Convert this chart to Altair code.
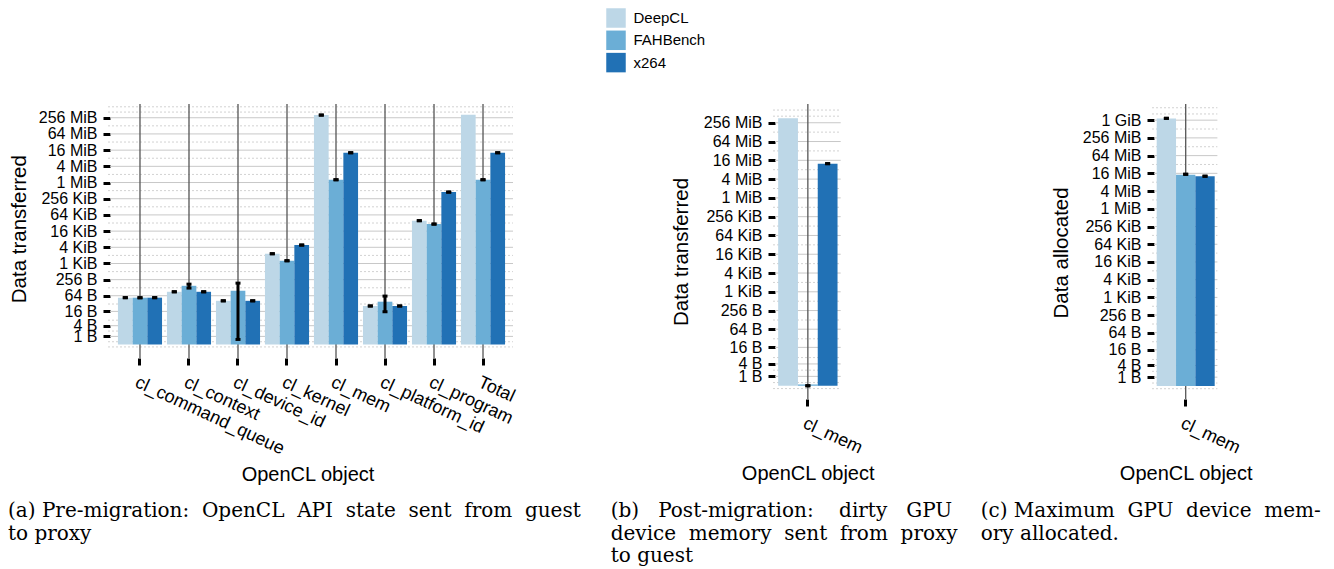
import altair as alt
import pandas as pd

SERIES = ["DeepCL", "FAHBench", "x264"]
COLORS = ["#bdd7e7", "#6baed6", "#2171b5"]
SANS = "Liberation Sans"
SERIF = "DejaVu Serif"

# ---------- data (bytes) ----------
# (a) Pre-migration
objects_a = ["cl_command_queue", "cl_context", "cl_device_id", "cl_kernel",
             "cl_mem", "cl_platform_id", "cl_program", "Total"]
deepcl_a = [54, 90, 41, 2360, 337e6, 26, 40000, 350e6]
fah_a = [54, 151, 99, 1295, 1.33e6, 38, 29900, 1.33e6]
x264_a = [54, 90, 41, 4970, 13.4e6, 26, 462000, 13.4e6]
deepcl_a_lo = [54, 90, 41, 2360, 337e6, 26, 40000, None]
deepcl_a_hi = [54, 90, 41, 2360, 337e6, 26, 40000, None]
fah_a_lo = [54, 124, 0.54, 1295, 1.33e6, 15.5, 29900, 1.33e6]
fah_a_hi = [54, 174, 190, 1295, 1.33e6, 62, 29900, 1.33e6]
x264_a_lo = [54, 90, 41, 4970, 13.4e6, 26, 462000, 13.4e6]
x264_a_hi = [54, 90, 41, 4970, 13.4e6, 26, 462000, 13.4e6]

# (b) Post-migration
objects_b = ["cl_mem"]
deepcl_b = [372e6]
fah_b = [0.1]
x264_b = [13.1e6]
deepcl_b_lo, deepcl_b_hi = [None], [None]
fah_b_lo, fah_b_hi = [0], [0]
x264_b_lo, x264_b_hi = [13.1e6], [13.1e6]

# (c) Maximum allocated
objects_c = ["cl_mem"]
deepcl_c = [1.233e9]
fah_c = [14.9e6]
x264_c = [13.4e6]
deepcl_c_lo, deepcl_c_hi = [1.24e9], [1.24e9]
fah_c_lo, fah_c_hi = [15.6e6], [15.6e6]
x264_c_lo, x264_c_hi = [13.4e6], [13.4e6]

ticks_ab = [4 ** k for k in range(15)]      # 1 B ... 256 MiB
ticks_c = [4 ** k for k in range(16)]       # 1 B ... 1 GiB
minor_units_ab = [-0.3, 0.34, 1.66, 3.0] + [float(k) for k in range(5, 28, 2)] + [28.7, 29.35]
minor_units_c = [-0.3, 0.34, 1.66, 3.0] + [float(k) for k in range(5, 30, 2)] + [30.7, 31.4]

NB = "\u00a0"
captions = {
    "a": f"(a) Pre-migration:{NB} OpenCL{NB} API{NB} state{NB} sent{NB} from{NB} guest\nto proxy",
    "b": f"(b){NB}{NB} Post-migration:{NB}{NB}{NB} dirty{NB}{NB} GPU\ndevice{NB} memory{NB} sent{NB} from{NB} proxy\nto guest",
    "c": f"(c) Maximum{NB} GPU{NB} device{NB} mem-\nory allocated.",
}


def long_df(objects, vals, los, his):
    rows = []
    for s, v, lo, hi in zip(SERIES, vals, los, his):
        for i, o in enumerate(objects):
            rows.append({"obj": o, "series": s, "value": v[i],
                         "lo": lo[i], "hi": hi[i]})
    return pd.DataFrame(rows)


df_a = long_df(objects_a, [deepcl_a, fah_a, x264_a],
               [deepcl_a_lo, fah_a_lo, x264_a_lo], [deepcl_a_hi, fah_a_hi, x264_a_hi])
df_b = long_df(objects_b, [deepcl_b, fah_b, x264_b],
               [deepcl_b_lo, fah_b_lo, x264_b_lo], [deepcl_b_hi, fah_b_hi, x264_b_hi])
df_c = long_df(objects_c, [deepcl_c, fah_c, x264_c],
               [deepcl_c_lo, fah_c_lo, x264_c_lo], [deepcl_c_hi, fah_c_hi, x264_c_hi])

LABEL_EXPR = ("datum.value >= 1073741824 ? format(datum.value/1073741824,'d') + ' GiB' : "
              "datum.value >= 1048576 ? format(datum.value/1048576,'d') + ' MiB' : "
              "datum.value >= 1024 ? format(datum.value/1024,'d') + ' KiB' : "
              "format(datum.value,'d') + ' B\u00a0\u00a0'")

LEG = alt.Legend(orient="none", legendX=496, legendY=-96, title=None,
                 symbolType="square", symbolSize=380, symbolStrokeWidth=0,
                 symbolOpacity=1, labelFontSize=15, labelFont=SANS,
                 labelColor="black", rowPadding=2.3, labelOffset=7.5, padding=0)


def panel(df, objects, ticks, minor_units, dom, ph, pw, cell_w, pad_outer,
          ytitle, ytitle_xy, xtitle_xy, cap_key, cap_x):
    xs = alt.Scale(range=[0, pw], paddingInner=0.1, paddingOuter=pad_outer)
    ys = alt.Scale(type="symlog", constant=1, domain=dom, range=[ph, 0],
                   nice=False, zero=False)
    xo = alt.Scale(domain=SERIES, paddingInner=0, paddingOuter=0)

    yaxis = alt.Axis(orient="left", values=ticks, labelExpr=LABEL_EXPR,
                     domain=False, grid=False, ticks=True, tickColor="black",
                     tickWidth=3, tickSize=7, labelFontSize=16, labelFont=SANS,
                     labelColor="black", labelPadding=6, labelOverlap=False,
                     labelFlush=False, title=ytitle, titleFont=SANS,
                     titleFontSize=20.5, titleFontWeight="normal", titleColor="black",
                     titleAngle=270, titleAlign="center", titleBaseline="middle",
                     titleX=ytitle_xy[0], titleY=ytitle_xy[1])
    xaxis = alt.Axis(orient="bottom", offset=10, domain=False, grid=False, ticks=True,
                     tickColor="black", tickWidth=3, tickSize=7, labelAngle=25,
                     labelAlign="left", labelBaseline="top", labelPadding=8,
                     labelFontSize=18, labelFont=SANS, labelColor="black",
                     labelOverlap=False, labelLimit=300, title="OpenCL object",
                     titleFont=SANS, titleFontSize=20, titleFontWeight="normal",
                     titleColor="black", titleAlign="center", titleBaseline="middle",
                     titleX=xtitle_xy[0], titleY=xtitle_xy[1])

    X = alt.X("obj:N", sort=objects, scale=xs, axis=xaxis)
    XO = alt.XOffset("series:N", sort=SERIES, scale=xo)

    majors = pd.DataFrame({"v": ticks})
    minors = pd.DataFrame({"v": [2 ** u - 1 if u >= 0 else -(2 ** (-u) - 1)
                                 for u in minor_units]})
    minor = alt.Chart(minors).mark_rule(color="#d2d2d2", strokeWidth=1,
                                        strokeDash=[2, 2]).encode(
        y=alt.Y("v:Q", scale=ys, axis=yaxis), x=alt.value(-2), x2=alt.value(pw))
    major = alt.Chart(majors).mark_rule(color="#c8c8c8", strokeWidth=1).encode(
        y=alt.Y("v:Q", scale=ys, axis=yaxis), x=alt.value(0), x2=alt.value(pw))
    objdf = pd.DataFrame({"obj": objects})
    vline = alt.Chart(objdf).mark_rule(color="#555555", strokeWidth=1.3).encode(
        x=X, y=alt.value(0), y2=alt.value(ph + 10))
    bars = alt.Chart(df).mark_bar().encode(
        x=X, xOffset=XO,
        y=alt.Y("value:Q", scale=ys, axis=yaxis),
        y2=alt.datum(0),
        color=alt.Color("series:N", scale=alt.Scale(domain=SERIES, range=COLORS),
                        legend=LEG),
    )
    base_err = alt.Chart(df).transform_filter("isValid(datum.lo)")
    err = base_err.mark_rule(color="black", strokeWidth=3).encode(
        x=X, xOffset=XO,
        y=alt.Y("lo:Q", scale=ys, axis=yaxis), y2="hi:Q")
    cap_lo = base_err.mark_tick(color="black", thickness=3, size=5, opacity=1).encode(
        x=X, xOffset=XO, y=alt.Y("lo:Q", scale=ys, axis=yaxis))
    cap_hi = base_err.mark_tick(color="black", thickness=3, size=5, opacity=1).encode(
        x=X, xOffset=XO, y=alt.Y("hi:Q", scale=ys, axis=yaxis))
    cap = alt.Chart(pd.DataFrame({"t": [captions[cap_key]]})).mark_text(
        align="left", baseline="top", font=SERIF, fontSize=20, lineHeight=22.5,
        lineBreak="\n", color="black").encode(
        x=alt.value(cap_x), y=alt.value(397), text="t:N")
    return alt.layer(minor, major, vline, bars, err, cap_lo, cap_hi, cap).properties(
        width=cell_w, height=ph)


pa = panel(df_a, objects_a, ticks_ab, minor_units_ab, [-0.35, 8.7e8], 244, 403, 664.3,
           0.162, "Data transferred", (-90.5, 124.7), (197.5, 116), "a", -102)
pb = panel(df_b, objects_b, ticks_ab, minor_units_ab, [-0.27, 1.07e9], 285, 65.7, 379,
           0.048, "Data transferred", (-93.5, 147.5), (32.7, 74.7), "b", -164.3)
pc = panel(df_c, objects_c, ticks_c, minor_units_c, [-0.26, 3.8e9], 285, 63.4, 63.4,
           0.042, "Data allocated", (-92.8, 148.4), (31.7, 74.7), "c", -173.3)

chart = alt.hconcat(pa, pb, pc, spacing=0, bounds="flush").resolve_scale(
    xOffset="independent").properties(
    padding=0, background="white"
).configure_view(stroke=None)

chart.save("out.html", embed_options={"renderer": "svg", "actions": False})
